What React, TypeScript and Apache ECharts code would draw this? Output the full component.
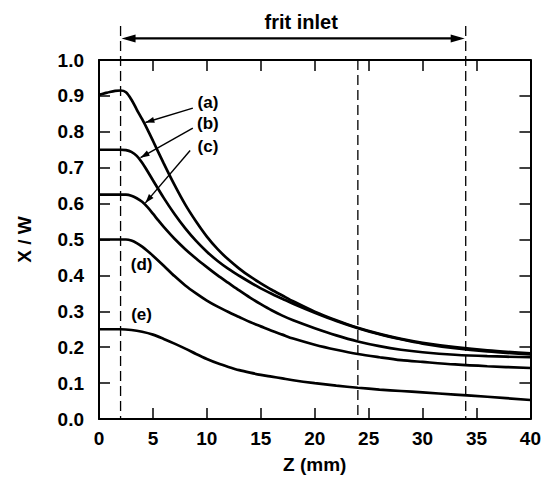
import React, { useEffect, useRef } from "react";
import * as echarts from "echarts";

// Z (mm), X/W
const curveA: [number, number][] = [
  [0, 0.903], [0.5, 0.907], [1, 0.911], [1.5, 0.914], [2, 0.915], [2.5, 0.91], [3, 0.89],
  [3.5, 0.862], [4, 0.835], [4.5, 0.806], [5, 0.775], [6, 0.712], [7, 0.652], [8, 0.597],
  [9, 0.55], [10, 0.508], [11, 0.473], [12, 0.444], [13, 0.419], [14, 0.397], [15, 0.378],
  [16, 0.36], [17, 0.344], [18, 0.328], [20, 0.299], [22, 0.275], [24, 0.254], [26, 0.237],
  [28, 0.223], [30, 0.212], [33, 0.2], [36, 0.191], [40, 0.183],
];
const curveB: [number, number][] = [
  [0, 0.75], [1, 0.75], [2, 0.75], [2.5, 0.749], [3, 0.744], [3.5, 0.733], [4, 0.714],
  [4.5, 0.69], [5, 0.665], [6, 0.616], [7, 0.571], [8, 0.531], [9, 0.496], [10, 0.466],
  [11, 0.44], [12, 0.418], [13, 0.399], [14, 0.381], [15, 0.364], [16, 0.349], [17, 0.335],
  [18, 0.321], [20, 0.296], [22, 0.273], [24, 0.253], [26, 0.236], [28, 0.222], [30, 0.21],
  [33, 0.197], [36, 0.188], [40, 0.18],
];
const curveC: [number, number][] = [
  [0, 0.625], [2, 0.625], [2.5, 0.625], [3, 0.622], [3.5, 0.615], [4, 0.605], [4.5, 0.59],
  [5, 0.572], [5.5, 0.553], [6, 0.535], [7, 0.502], [8, 0.473], [9, 0.447], [10, 0.423],
  [11, 0.4], [12, 0.379], [13, 0.358], [14, 0.338], [15, 0.32], [16, 0.303], [17, 0.288],
  [18, 0.275], [20, 0.253], [22, 0.233], [24, 0.216], [26, 0.203], [28, 0.193], [30, 0.186],
  [33, 0.179], [36, 0.175], [40, 0.172],
];
const curveD: [number, number][] = [
  [0, 0.5], [2, 0.5], [2.5, 0.5], [3, 0.497], [3.5, 0.49], [4, 0.48], [4.5, 0.468],
  [5, 0.455], [6, 0.427], [7, 0.398], [8, 0.372], [9, 0.35], [10, 0.33], [11, 0.313],
  [12, 0.298], [13, 0.284], [14, 0.27], [15, 0.258], [16, 0.246], [17, 0.235], [18, 0.224],
  [20, 0.207], [22, 0.193], [24, 0.181], [26, 0.172], [28, 0.164], [30, 0.159], [33, 0.152],
  [36, 0.147], [40, 0.142],
];
const curveE: [number, number][] = [
  [0, 0.25], [2, 0.25], [3, 0.248], [4, 0.243], [5, 0.235], [6, 0.223], [7, 0.21],
  [8, 0.196], [9, 0.181], [10, 0.167], [11, 0.155], [12, 0.145], [13, 0.136], [14, 0.129],
  [15, 0.123], [16, 0.118], [17, 0.113], [18, 0.108], [20, 0.1], [22, 0.093], [24, 0.087],
  [26, 0.082], [28, 0.078], [30, 0.074], [33, 0.068], [36, 0.062], [40, 0.053],
];

const seriesNames = ["(a)", "(b)", "(c)", "(d)", "(e)"];
const frit = { start: 2, end: 34, label: "frit inlet" };
const dashedZ = [2, 24, 34];

// annotation anchors in data coordinates
const labelPos: [number, number][] = [
  [10.1, 0.883], [10.1, 0.822], [10.1, 0.76], [3.95, 0.429], [3.95, 0.29],
];
const arrowFrom: [number, number][] = [[8.7, 0.866], [8.7, 0.81], [8.45, 0.748]];
const arrowTo: [number, number][] = [[4.3, 0.826], [3.85, 0.728], [4.3, 0.602]];

const FONT = "'Liberation Sans', Arial, Helvetica, sans-serif";

export default function App() {
  const ref = useRef<HTMLDivElement>(null);
  useEffect(() => {
    if (!ref.current) return;
    const chart = echarts.init(ref.current, null, { renderer: "svg" });
    const curves = [curveA, curveB, curveC, curveD, curveE];
    const axisCommon = {
      type: "value" as const,
      splitLine: { show: false },
      axisLine: { show: true, onZero: false, lineStyle: { color: "#000", width: 2 } },
      axisTick: { show: true, inside: true, length: 11, lineStyle: { color: "#000", width: 1.5 } },
    };
    const labelStyle = { fontSize: 19, fontWeight: "bold" as const, color: "#000", fontFamily: FONT };
    chart.setOption({
      animation: false,
      backgroundColor: "#fff",
      grid: { left: 99, right: 13, top: 60, bottom: 65, containLabel: false },
      xAxis: [
        {
          ...axisCommon,
          min: 0, max: 40, interval: 5,
          axisLabel: { ...labelStyle, margin: 10 },
          name: "Z (mm)", nameLocation: "middle", nameGap: 36,
          nameTextStyle: { ...labelStyle },
        },
        { ...axisCommon, position: "top", min: 0, max: 40, interval: 5, axisLabel: { show: false } },
      ],
      yAxis: [
        {
          ...axisCommon,
          min: 0, max: 1, interval: 0.1,
          axisLabel: { ...labelStyle, margin: 15, formatter: (v: number) => v.toFixed(1) },
          name: "X / W", nameLocation: "middle", nameGap: 65,
          nameTextStyle: { ...labelStyle },
        },
        { ...axisCommon, position: "right", min: 0, max: 1, interval: 0.1, axisLabel: { show: false } },
      ],
      series: curves.map((c, i) => ({
        type: "line",
        name: seriesNames[i],
        data: c,
        xAxisIndex: 0,
        yAxisIndex: 0,
        showSymbol: false,
        symbol: "none",
        smooth: 0.3,
        lineStyle: { color: "#000", width: 2.7 },
      })),
    });

    const px = (p: [number, number]) =>
      chart.convertToPixel({ xAxisIndex: 0, yAxisIndex: 0 }, p) as number[];
    const head = (from: number[], to: number[], L: number, W: number) => {
      const dx = to[0] - from[0];
      const dy = to[1] - from[1];
      const len = Math.hypot(dx, dy) || 1;
      const ux = dx / len, uy = dy / len;
      const nx = -uy, ny = ux;
      return {
        type: "polygon",
        shape: {
          points: [
            [to[0], to[1]],
            [to[0] - ux * L + nx * W / 2, to[1] - uy * L + ny * W / 2],
            [to[0] - ux * L - nx * W / 2, to[1] - uy * L - ny * W / 2],
          ],
        },
        style: { fill: "#000" },
      };
    };
    const g: any[] = [];
    dashedZ.forEach((z) => {
      const top = z === 24 ? px([z, 1])[1] : px([z, 1.095])[1];
      const bot = px([z, 0])[1];
      const x = px([z, 0])[0];
      g.push({
        type: "line",
        shape: { x1: x, y1: top, x2: x, y2: bot },
        style: { stroke: "#000", lineWidth: 1.3, lineDash: [10, 5] },
      });
    });
    const aL = px([frit.start, 1.06]);
    const aR = px([frit.end, 1.06]);
    g.push({
      type: "line",
      shape: { x1: aL[0] + 6, y1: aL[1], x2: aR[0] - 6, y2: aR[1] },
      style: { stroke: "#000", lineWidth: 2.2 },
    });
    g.push(head([aR[0], aR[1]], [aL[0] + 1, aL[1]], 14, 8));
    g.push(head([aL[0], aL[1]], [aR[0] - 1, aR[1]], 14, 8));
    const tp = px([(frit.start + frit.end) / 2, 1.106]);
    g.push({
      type: "text",
      x: tp[0] + 8,
      y: tp[1],
      style: {
        text: frit.label, fill: "#000", font: `bold 20px ${FONT}`,
        align: "center", verticalAlign: "middle", textAlign: "center", textVerticalAlign: "middle",
      },
    });
    labelPos.forEach((p, i) => {
      const q = px(p);
      g.push({
        type: "text",
        x: q[0],
        y: q[1],
        style: {
          text: seriesNames[i], fill: "#000", font: `bold 17px ${FONT}`,
          align: "center", verticalAlign: "middle", textAlign: "center", textVerticalAlign: "middle",
        },
      });
    });
    arrowFrom.forEach((f, i) => {
      const a = px(f);
      const b = px(arrowTo[i]);
      g.push({
        type: "line",
        shape: { x1: a[0], y1: a[1], x2: b[0], y2: b[1] },
        style: { stroke: "#000", lineWidth: 1.4 },
      });
      g.push(head(a, b, 9, 6));
    });
    chart.setOption({ graphic: g });

    return () => chart.dispose();
  }, []);
  return (
    <div
      ref={ref}
      style={{ position: "fixed", left: 0, top: 0, width: 544, height: 484, background: "#fff" }}
    />
  );
}
